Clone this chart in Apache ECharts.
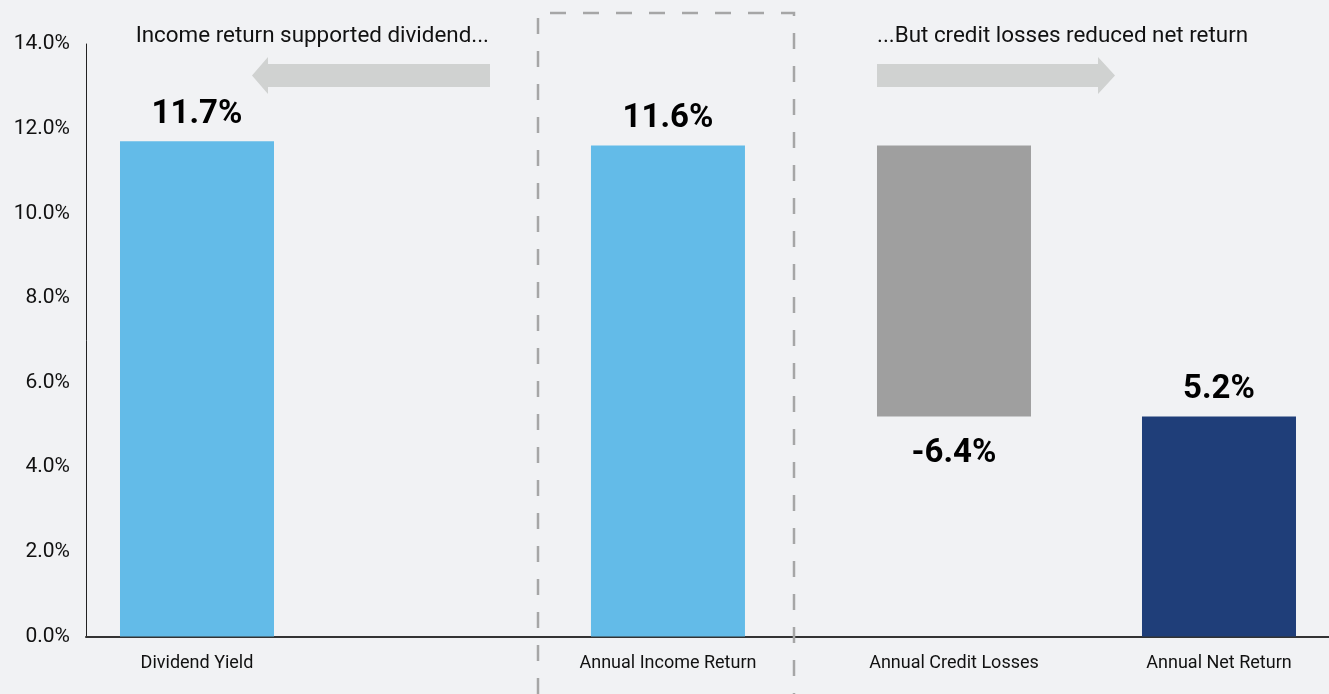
<!DOCTYPE html>
<html><head><meta charset="utf-8">
<script src="https://cdn.jsdelivr.net/npm/echarts@6/dist/echarts.min.js"></script>
<style>html,body{margin:0;padding:0;background:#f1f2f4}#c{width:1329px;height:694px}</style>
</head><body><div id="c"></div>
<script>
// ---------- data ----------
const categories = ['Dividend Yield', 'Annual Income Return', 'Annual Credit Losses', 'Annual Net Return'];
const values = [11.7, 11.6, -6.4, 5.2];          // % ; credit losses are negative
const valueLabels = ['11.7%', '11.6%', '-6.4%', '5.2%'];
const yMin = 0, yMax = 14, yStep = 2;
const noteLeft = 'Income return supported dividend...';
const noteRight = '...But credit losses reduced net return';

// ---------- layout (not data) ----------
const CAT_POS = [8.93, 46.82, 69.83, 91.15];      // position of each category along the x axis, % of axis length
const BAR_WIDTH = 154;
const FONT = "Roboto,'Liberation Sans',sans-serif";
const barColors = ['#63bbe8', '#63bbe8', '#9f9f9f', '#1f3e79'];

// each bar spans [low, high]; the credit-loss bar floats from net return up to income return
const barData = categories.map((c, i) => {
  if (i === 2) return [CAT_POS[i], values[1] + values[2], values[1]];
  return [CAT_POS[i], 0, values[i]];
});

const chart = echarts.init(document.getElementById('c'), null, { renderer: 'canvas' });
chart.setOption({
  backgroundColor: '#f1f2f4',
  animation: false,
  grid: { left: 86, right: 0, top: 44, bottom: 57.5, containLabel: false, outerBoundsMode: 'none' },
  xAxis: {
    type: 'value', min: 0, max: 100,
    splitLine: { show: false },
    axisTick: { show: false },
    axisLine: { show: true, lineStyle: { color: '#333', width: 2 } },
    axisLabel: {
      customValues: CAT_POS,
      formatter: v => categories[CAT_POS.indexOf(v)] || '',
      margin: 18, fontSize: 18, color: '#111', fontFamily: FONT
    }
  },
  yAxis: {
    type: 'value', min: yMin, max: yMax, interval: yStep,
    splitLine: { show: false },
    axisTick: { show: false },
    axisLine: { show: true, lineStyle: { color: '#222', width: 1 } },
    axisLabel: { formatter: v => v.toFixed(1) + '%', margin: 16, fontSize: 21, color: '#111', fontFamily: FONT }
  },
  series: [{
    type: 'custom',
    encode: { x: 0, y: [1, 2] },
    data: barData,
    renderItem: (params, api) => {
      const i = params.dataIndex;
      const x = api.value(0), lo = api.value(1), hi = api.value(2);
      const top = api.coord([x, hi]), bot = api.coord([x, lo]);
      return {
        type: 'rect',
        shape: { x: top[0] - BAR_WIDTH / 2, y: top[1], width: BAR_WIDTH, height: bot[1] - top[1] },
        style: { fill: barColors[i] },
        textContent: {
          style: { text: valueLabels[i], fontSize: 33, fontWeight: 'bold', fontFamily: FONT, fill: '#000' }
        },
        textConfig: { position: i === 2 ? 'bottom' : 'top', distance: i === 2 ? 21 : 10 }
      };
    }
  }],
  graphic: [
    { type: 'polyline', z: 1, shape: { points: [[538, 694], [538, 13], [794, 13], [794, 694]] },
      style: { fill: 'none', stroke: '#a6a6a6', lineWidth: 2.5, lineDash: [16, 17] } },
    { type: 'polygon', shape: { points: [[252, 75.5], [268, 57], [268, 64], [490, 64], [490, 87], [268, 87], [268, 94]] },
      style: { fill: '#d0d2d1' } },
    { type: 'polygon', shape: { points: [[877, 64], [1098, 64], [1098, 57], [1115, 75.5], [1098, 94], [1098, 87], [877, 87]] },
      style: { fill: '#d0d2d1' } },
    { type: 'text', style: { text: noteLeft, x: 489, y: 36, align: 'right', verticalAlign: 'middle',
      fontSize: 22.4, fontFamily: FONT, fill: '#111' } },
    { type: 'text', style: { text: noteRight, x: 877, y: 36, align: 'left', verticalAlign: 'middle',
      fontSize: 22.4, fontFamily: FONT, fill: '#111' } }
  ]
});
</script></body></html>
